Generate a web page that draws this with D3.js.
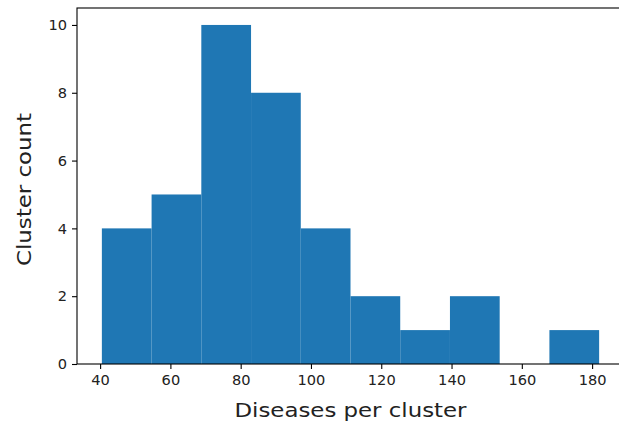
<!DOCTYPE html>
<html>
<head>
<meta charset="utf-8">
<script src="https://cdn.jsdelivr.net/npm/d3@7"></script>
<style>
  html, body { margin: 0; padding: 0; background: #fff; overflow: hidden; }
  svg { display: block; font-family: "DejaVu Sans", sans-serif; }
</style>
</head>
<body>
<svg id="chart" width="619" height="428"></svg>
<script>
// Data (10 bins)
const binMin = 40.5;
const binMax = 182.0;
const counts = [4, 5, 10, 8, 4, 2, 1, 2, 0, 1];
const xTicks = [40, 60, 80, 100, 120, 140, 160, 180];
const yTicks = [0, 2, 4, 6, 8, 10];
const xLabel = "Diseases per cluster";
const yLabel = "Cluster count";

const binWidth = (binMax - binMin) / counts.length;
const bins = counts.map((c, i) => ({
  x0: binMin + i * binWidth,
  x1: binMin + (i + 1) * binWidth,
  count: c
}));

const plotLeft = 77, plotRight = 624, plotTop = 8, plotBottom = 364;
const pad = 0.05 * (binMax - binMin);
const x = d3.scaleLinear().domain([binMin - pad, binMax + pad]).range([plotLeft, plotRight]);
const y = d3.scaleLinear().domain([0, d3.max(counts) * 1.05]).range([plotBottom, plotTop]);

const svg = d3.select("#chart");

svg.append("g").selectAll("rect")
  .data(bins.filter(b => b.count > 0))
  .join("rect")
  .attr("x", d => x(d.x0))
  .attr("y", d => y(d.count))
  .attr("width", d => x(d.x1) - x(d.x0))
  .attr("height", d => y(0) - y(d.count))
  .attr("fill", "#1f77b4");

const xAxis = svg.append("g")
  .attr("transform", `translate(0,${plotBottom})`)
  .call(d3.axisBottom(x).tickValues(xTicks).tickSize(5).tickPadding(6).tickFormat(d3.format("d")));
const yAxis = svg.append("g")
  .attr("transform", `translate(${plotLeft},0)`)
  .call(d3.axisLeft(y).tickValues(yTicks).tickSize(5).tickPadding(5).tickFormat(d3.format("d")));

[xAxis, yAxis].forEach(g => {
  g.select(".domain").remove();
  g.selectAll(".tick line").attr("stroke", "#000").attr("stroke-width", 1.1);
  g.selectAll(".tick text").attr("fill", "#222").style("font-size", "14.6px").style("font-family", "DejaVu Sans");
});

// Frame (spines)
svg.append("rect")
  .attr("x", plotLeft).attr("y", plotTop)
  .attr("width", plotRight - plotLeft).attr("height", plotBottom - plotTop)
  .attr("fill", "none").attr("stroke", "#000").attr("stroke-width", 1.1);

svg.append("text")
  .attr("x", 350.5)
  .attr("y", 416.5)
  .attr("text-anchor", "middle")
  .attr("fill", "#222")
  .attr("textLength", 232)
  .attr("lengthAdjust", "spacingAndGlyphs")
  .style("font-size", "19px")
  .text(xLabel);

svg.append("text")
  .attr("transform", `translate(30.5,189.5) rotate(-90)`)
  .attr("text-anchor", "middle")
  .attr("fill", "#222")
  .attr("textLength", 153)
  .attr("lengthAdjust", "spacingAndGlyphs")
  .style("font-size", "19px")
  .text(yLabel);
</script>
</body>
</html>
